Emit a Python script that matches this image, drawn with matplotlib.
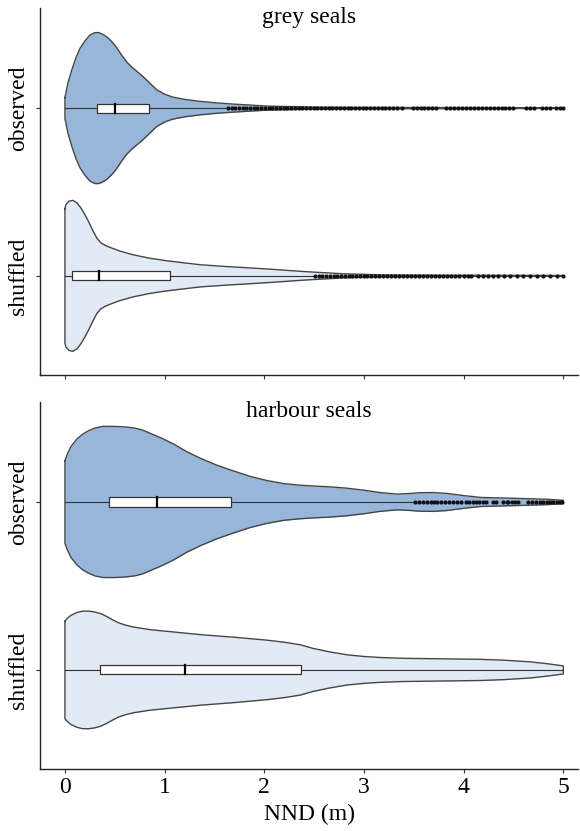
import numpy as np
import matplotlib
matplotlib.use('Agg')
import matplotlib.pyplot as plt
from matplotlib.patches import Rectangle

plt.rcParams['font.family'] = ['Liberation Serif', 'DejaVu Serif']

# категории: observed сверху (1), shuffled снизу (0)
groups = ['observed', 'shuffled']
panels = ['grey seals', 'harbour seals']
x_ticks = [0, 1, 2, 3, 4, 5]

# профили скрипок (полуширина в единицах оси y)
grey_obs_x = [0, 0.01, 0.03, 0.07, 0.11, 0.15, 0.20, 0.25, 0.30, 0.34, 0.38, 0.43, 0.48, 0.52,
              0.57, 0.62, 0.67, 0.72, 0.78, 0.85, 0.92, 1.00, 1.08, 1.20, 1.36, 1.52, 1.69,
              2.03, 2.5, 3.0, 4.0, 5.0]
grey_obs_w = [0.063, 0.09, 0.15, 0.23, 0.30, 0.355, 0.40, 0.435, 0.45, 0.45, 0.44, 0.42, 0.39, 0.36,
              0.315, 0.275, 0.245, 0.22, 0.19, 0.15, 0.11, 0.083, 0.066, 0.052, 0.04, 0.031, 0.024,
              0.012, 0.006, 0.004, 0.003, 0.002]

grey_shuf_x = [0, 0.01, 0.04, 0.08, 0.12, 0.16, 0.20, 0.24, 0.28, 0.32, 0.36, 0.40, 0.45, 0.55,
               0.68, 0.85, 1.02, 1.2, 1.36, 1.6, 1.86, 2.1, 2.36, 2.5, 2.8, 3.16, 3.6, 4.2, 5.0]
grey_shuf_w = [0.40, 0.425, 0.445, 0.45, 0.435, 0.405, 0.365, 0.32, 0.27, 0.225, 0.197, 0.183, 0.17,
               0.148, 0.126, 0.105, 0.09, 0.077, 0.066, 0.056, 0.047, 0.038, 0.027, 0.022, 0.012,
               0.006, 0.004, 0.003, 0.002]

harb_obs_x = [0, 0.02, 0.06, 0.12, 0.18, 0.24, 0.30, 0.38, 0.5, 0.6, 0.7, 0.78, 0.85, 0.97, 1.09,
              1.22, 1.36, 1.52, 1.69, 1.86, 2.03, 2.2, 2.36, 2.49, 2.66, 2.83, 3.0, 3.16, 3.33,
              3.45, 3.56, 3.7, 3.83, 4.0, 4.17, 4.5, 4.84, 5.0]
harb_obs_w = [0.245, 0.28, 0.33, 0.375, 0.405, 0.425, 0.44, 0.45, 0.45, 0.447, 0.44, 0.428, 0.41,
              0.38, 0.345, 0.30, 0.26, 0.22, 0.185, 0.152, 0.127, 0.109, 0.1, 0.095, 0.09, 0.082,
              0.07, 0.056, 0.047, 0.05, 0.055, 0.056, 0.051, 0.038, 0.027, 0.022, 0.016, 0.01]

harb_shuf_x = [0, 0.02, 0.06, 0.12, 0.18, 0.24, 0.30, 0.36, 0.42, 0.48, 0.54, 0.6, 0.68, 0.85,
               1.02, 1.36, 1.69, 2.03, 2.2, 2.36, 2.49, 2.66, 2.83, 3.0, 3.16, 3.4, 3.66, 4.17,
               4.4, 4.67, 4.85, 5.0]
harb_shuf_w = [0.29, 0.305, 0.325, 0.342, 0.35, 0.35, 0.345, 0.335, 0.318, 0.298, 0.28, 0.268,
               0.256, 0.24, 0.23, 0.21, 0.195, 0.177, 0.165, 0.15, 0.128, 0.107, 0.09, 0.08, 0.074,
               0.069, 0.067, 0.063, 0.058, 0.048, 0.036, 0.024]

# боксплот: [нижний ус, q1, медиана, q3, верхний ус]
grey_obs_box = [0, 0.32, 0.50, 0.84, 1.62]
grey_shuf_box = [0, 0.07, 0.34, 1.05, 2.50]
harb_obs_box = [0, 0.44, 0.92, 1.67, 3.50]
harb_shuf_box = [0, 0.35, 1.20, 2.37, 5.0]

# выбросы
grey_obs_out = [1.64, 1.68, 1.71, 1.75, 1.79, 1.82, 1.86, 1.90, 1.93, 1.97, 2.01, 2.05, 2.08, 2.12,
                2.16, 2.20, 2.23, 2.27, 2.31, 2.35, 2.38, 2.42, 2.46, 2.50, 2.53, 2.57, 2.61, 2.65,
                2.68, 2.72, 2.76, 2.80, 2.84, 2.87, 2.91, 2.95, 2.99, 3.02, 3.06, 3.10, 3.14, 3.18,
                3.21, 3.25, 3.29, 3.33, 3.38, 3.49, 3.53, 3.57, 3.60, 3.64, 3.68, 3.72, 3.82, 3.86,
                3.90, 3.94, 3.98, 4.02, 4.06, 4.10, 4.14, 4.18, 4.22, 4.26, 4.30, 4.34, 4.38, 4.42,
                4.46, 4.50, 4.63, 4.67, 4.71, 4.79, 4.83, 4.87, 4.93, 4.97, 5.00]
grey_shuf_out = [2.51, 2.55, 2.58, 2.62, 2.66, 2.70, 2.73, 2.77, 2.81, 2.85, 2.88, 2.92, 2.96, 3.00,
                 3.03, 3.07, 3.11, 3.15, 3.19, 3.23, 3.27, 3.31, 3.35, 3.39, 3.43, 3.47, 3.51, 3.55,
                 3.59, 3.63, 3.67, 3.71, 3.75, 3.79, 3.83, 3.87, 3.91, 3.95, 4.00, 4.04, 4.07, 4.14,
                 4.19, 4.24, 4.29, 4.34, 4.40, 4.47, 4.54, 4.60, 4.67, 4.74, 4.80, 4.87, 4.94, 5.00]
harb_obs_out = [3.51, 3.55, 3.59, 3.63, 3.67, 3.70, 3.73, 3.77, 3.81, 3.85, 3.89, 3.93, 3.97, 4.02,
                4.05, 4.09, 4.12, 4.15, 4.19, 4.22, 4.29, 4.32, 4.39, 4.44, 4.45, 4.49, 4.52, 4.55,
                4.65, 4.69, 4.73, 4.77, 4.80, 4.84, 4.87, 4.90, 4.94, 4.97, 4.99]

col_obs = '#97b6da'
col_shuf = '#e2eaf5'
edge = '#454545'


def draw_violin(ax, pos, xs, ws, fill, box, out):
    xs = np.array(xs)
    ws = np.array(ws)
    ax.fill_between(xs, pos - ws, pos + ws, color=fill, lw=0, zorder=1)
    ox = np.concatenate([xs, xs[::-1], xs[:1]])
    oy = np.concatenate([pos + ws, (pos - ws)[::-1], pos + ws[:1]])
    ax.plot(ox, oy, color=edge, lw=1.0, zorder=2, solid_joinstyle='round')
    lo, q1, med, q3, hi = box
    ax.plot([lo, hi], [pos, pos], color='#333333', lw=0.8, zorder=3)
    h = 0.027
    ax.add_patch(Rectangle((q1, pos - h), q3 - q1, 2 * h, fc='white', ec='#333333', lw=0.9, zorder=4))
    ax.plot([med, med], [pos - h, pos + h], color='black', lw=1.6, zorder=5)
    # выбросы - плотные черные точки
    ax.plot(out, [pos] * len(out), 'o', ms=3.0, color='#111111', mew=0, zorder=6)


fig = plt.figure(figsize=(5.8, 8.31), dpi=100)
ax1 = fig.add_axes([0.069, 0.549, 0.928, 0.441])
ax2 = fig.add_axes([0.069, 0.0746, 0.928, 0.4416])

draw_violin(ax1, 1, grey_obs_x, grey_obs_w, col_obs, grey_obs_box, grey_obs_out)
draw_violin(ax1, 0, grey_shuf_x, grey_shuf_w, col_shuf, grey_shuf_box, grey_shuf_out)
draw_violin(ax2, 1, harb_obs_x, harb_obs_w, col_obs, harb_obs_box, harb_obs_out)
draw_violin(ax2, 0, harb_shuf_x, harb_shuf_w, col_shuf, harb_shuf_box, [])

for ax, title in zip([ax1, ax2], panels):
    ax.set_xlim(-0.25, 5.15)
    ax.set_ylim(-0.59, 1.595)
    ax.set_xticks(x_ticks)
    ax.set_yticks([1, 0])
    ax.set_yticklabels(groups, rotation=90, va='center', fontsize=17)
    for s in ['top', 'right']:
        ax.spines[s].set_visible(False)
    for s in ['left', 'bottom']:
        ax.spines[s].set_color('#222222')
        ax.spines[s].set_linewidth(1.0)
    ax.tick_params(length=3, width=0.8, color='#333333', pad=5)
    ax.text(0.5, 1.003, title, transform=ax.transAxes, ha='center', va='top', fontsize=17)

ax1.set_xticklabels([])
ax2.set_xticklabels([str(t) for t in x_ticks], fontsize=17)
ax2.tick_params(axis='x', pad=3)
ax2.set_xlabel('NND (m)', fontsize=17, labelpad=4)

fig.savefig('out.png', dpi=100)
